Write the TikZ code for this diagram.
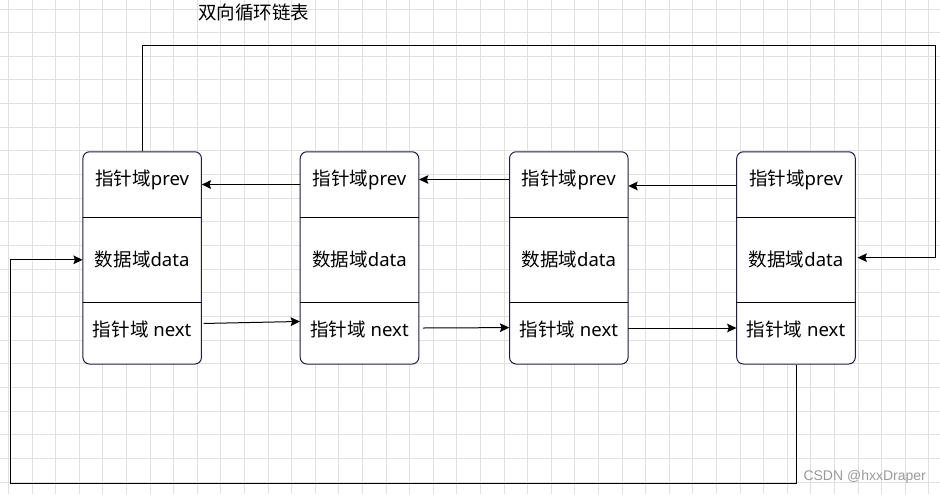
\documentclass[tikz,border=0pt]{standalone}
\usepackage{fontspec}
\setmainfont{Noto Sans}
\newfontfamily\cjk{Noto Sans CJK SC}
\newfontfamily\wmfont{Liberation Sans}
\usetikzlibrary{arrows.meta,calc}
\definecolor{gridc}{HTML}{E0E0E0}
\definecolor{boxc}{HTML}{1C1C44}
\definecolor{wmc}{HTML}{9A9A9A}
\begin{document}
\begin{tikzpicture}[x=0.75pt,y=-0.75pt,
  box/.style={draw=boxc, line width=0.75pt, rounded corners=5pt, fill=white, minimum width=88.9pt, minimum height=159.2pt, inner sep=0pt},
  fld/.style={minimum width=88.9pt, inner sep=0pt},
  lbl/.style={font=\fontsize{13.9}{16}\selectfont, inner sep=0pt},
  arr/.style={line width=0.75pt, -{Stealth[length=7pt,width=6.5pt,inset=1.2pt]}},
  div/.style={line width=0.75pt, draw=black},
  gridline/.style={draw=gridc, line width=0.75pt}]
\fill[white] (0,0) rectangle (940,494);
\useasboundingbox (0,0) rectangle (940,494);
\foreach \i in {0,...,39} { \draw[gridline] (8.5+23.6*\i,0) -- (8.5+23.6*\i,494); }
\foreach \j in {0,...,20} { \draw[gridline] (0,9+23.66*\j) -- (940,9+23.66*\j); }
\foreach \n/\x in {1/142.2, 2/359.5, 3/568.8, 4/796} {
  \node[box] (b\n) at (\x,257.9) {};
  \node[fld, minimum height=49.2pt] (p\n) at (\x,184.5) {};
  \node[fld, minimum height=63.75pt] (d\n) at (\x,259.8) {};
  \node[fld, minimum height=46.3pt] (n\n) at (\x,333.2) {};
  \draw[div] (p\n.south west) -- (p\n.south east);
  \draw[div] (d\n.south west) -- (d\n.south east);
  \node[lbl] (tp\n) at ([yshift=3.4pt]p\n.center) {{\cjk 指针域}prev};
  \node[lbl] (td\n) at (d\n.center) {{\cjk 数据域}data};
  \node[lbl] (tn\n) at ([yshift=2.8pt]n\n.center) {{\cjk 指针域} next};
}
\draw[arr] (p2.west) -- (p1.east);
\draw[arr] ([yshift=3.75pt]p3.west) -- ([yshift=3.75pt]p2.east);
\draw[arr] ([yshift=-1.1pt]p4.west) -- ([yshift=-1.1pt]p3.east);
\draw[arr] ([xshift=1.5pt,yshift=7.3pt]n1.east) -- ([yshift=8.8pt]n2.west);
\draw[arr] ([xshift=3pt,yshift=3.9pt]n2.east) -- ([yshift=4.2pt]n3.west);
\draw[arr] ([yshift=3.9pt]n3.east) -- ([yshift=3.9pt]n4.west);
\coordinate (c1) at (935,45.3);
\coordinate (c2) at (10.7,483);
\draw[arr] (b1.north) |- (c1) |- ([yshift=1.6pt,xshift=1.5pt]d4.east);
\draw[arr] (b4.south) |- (c2) |- (d1.west);
\node[lbl] (title) at (253.9,12.3) {\cjk 双向循环链表};
\node[font=\wmfont\fontsize{10.5}{12}\selectfont, text=wmc, inner sep=0pt] (wm) at (864.7,477.3) {CSDN @hxxDraper};
\end{tikzpicture}
\end{document}
